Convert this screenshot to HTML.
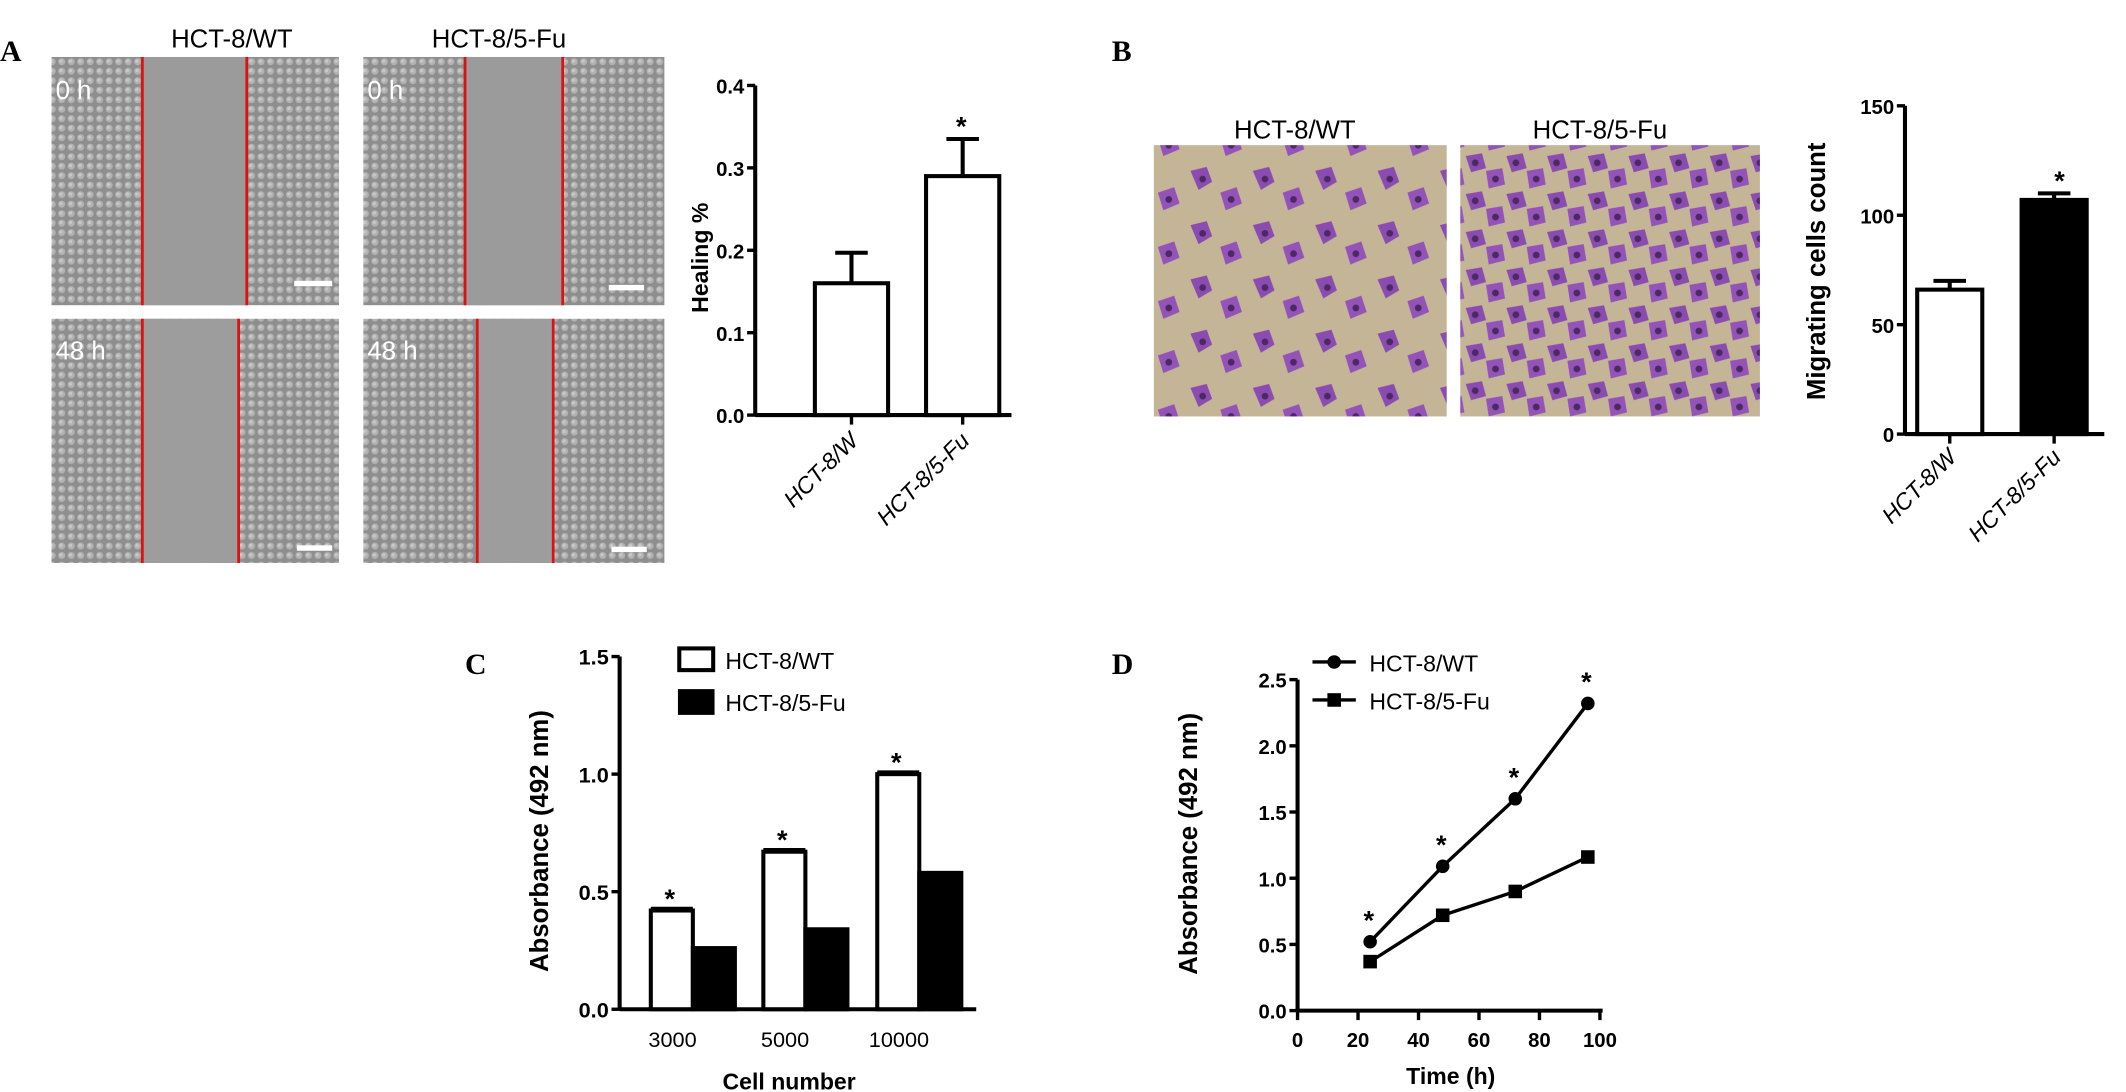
<!DOCTYPE html>
<html><head><meta charset="utf-8"><style>
html,body{margin:0;padding:0;background:#fff;}
svg{display:block;font-family:"Liberation Sans",sans-serif;}
</style></head><body>
<svg id="fig" width="2126" height="1092" viewBox="0 0 1568 805" preserveAspectRatio="none" xmlns="http://www.w3.org/2000/svg">
<defs>
<pattern id="cells" width="7" height="7" patternUnits="userSpaceOnUse">
<rect width="7" height="7" fill="#8e8e8e"/>
<circle cx="3.5" cy="3.5" r="2.6" fill="#b2b2b2"/>
<circle cx="3" cy="3" r="1.2" fill="#c8c8c8"/>
</pattern>
<pattern id="purple" width="46" height="40" patternUnits="userSpaceOnUse">
<rect width="46" height="40" fill="#c4b596"/>
<path d="M4 6 L16 3 L20 14 L10 20 Z" fill="#8a4cb0"/>
<path d="M26 22 L38 18 L42 30 L30 35 Z" fill="#9353b8"/>
<circle cx="13" cy="12" r="2.5" fill="#4a2a60"/>
<circle cx="34" cy="27" r="2.5" fill="#4a2a60"/>
</pattern>
<pattern id="purpleDense" width="30" height="28" patternUnits="userSpaceOnUse">
<rect width="30" height="28" fill="#c4b596"/>
<path d="M1 3 L13 1 L16 12 L5 15 Z" fill="#8a4cb0"/>
<path d="M16 14 L28 12 L30 24 L18 27 Z" fill="#9353b8"/>
<circle cx="8" cy="8" r="2.5" fill="#4a2a60"/>
<circle cx="23" cy="20" r="2.5" fill="#4a2a60"/>
</pattern>
</defs>

<!-- Panel A photos -->
<g>
<text x="0" y="45" style="font-family:'Liberation Serif',serif" font-weight="bold" font-size="22">A</text>
<text x="171" y="35" text-anchor="middle" font-size="19">HCT-8/WT</text>
<text x="368" y="35" text-anchor="middle" font-size="19">HCT-8/5-Fu</text>
<rect x="38" y="42" width="212" height="183" fill="url(#cells)"/>
<rect x="105" y="42" width="77" height="183" fill="#9b9b9b"/>
<line x1="105" y1="42" x2="105" y2="225" stroke="#e01010" stroke-width="2"/>
<line x1="182" y1="42" x2="182" y2="225" stroke="#e01010" stroke-width="2"/>
<rect x="268" y="42" width="222" height="183" fill="url(#cells)"/>
<rect x="343" y="42" width="72" height="183" fill="#9b9b9b"/>
<line x1="343" y1="42" x2="343" y2="225" stroke="#e01010" stroke-width="2"/>
<line x1="415" y1="42" x2="415" y2="225" stroke="#e01010" stroke-width="2"/>
<rect x="38" y="235" width="212" height="180" fill="url(#cells)"/>
<rect x="105" y="235" width="71" height="180" fill="#9d9d9d"/>
<line x1="105" y1="235" x2="105" y2="415" stroke="#e01010" stroke-width="2"/>
<line x1="176" y1="235" x2="176" y2="415" stroke="#e01010" stroke-width="2"/>
<rect x="268" y="235" width="222" height="180" fill="url(#cells)"/>
<rect x="352" y="235" width="56" height="180" fill="#9d9d9d"/>
<line x1="352" y1="235" x2="352" y2="415" stroke="#e01010" stroke-width="2"/>
<line x1="408" y1="235" x2="408" y2="415" stroke="#e01010" stroke-width="2"/>
<g fill="#fff" font-size="19">
<text x="41" y="73">0 h</text><text x="271" y="73">0 h</text>
<text x="41" y="265">48 h</text><text x="271" y="265">48 h</text>
</g>
<g fill="#fff">
<rect x="217" y="207" width="28" height="4"/><rect x="449" y="210" width="26" height="4"/>
<rect x="219" y="402" width="26" height="4"/><rect x="451" y="403" width="26" height="4"/>
</g>
</g>

<!-- Panel B photos -->
<g>
<text x="820" y="45" style="font-family:'Liberation Serif',serif" font-weight="bold" font-size="22">B</text>
<text x="955" y="102" text-anchor="middle" font-size="19">HCT-8/WT</text>
<text x="1180" y="102" text-anchor="middle" font-size="19">HCT-8/5-Fu</text>
<rect x="851" y="107" width="216" height="200" fill="url(#purple)"/>
<rect x="1077" y="107" width="221" height="200" fill="url(#purpleDense)"/>
</g>

<g id="chartA"></g>
<g id="chartB"></g>
<g id="chartC"></g>
<g id="chartD"></g>
<text x="343" y="497" style="font-family:'Liberation Serif',serif" font-weight="bold" font-size="22">C</text>
<text x="820" y="497" style="font-family:'Liberation Serif',serif" font-weight="bold" font-size="22">D</text>
</svg>
<script>
// Panel A data
const aCategories = ["HCT-8/W", "HCT-8/5-Fu"];
const aValues = [0.16, 0.29];
const aErrors = [0.037, 0.045];
const aTicks = ["0.0", "0.1", "0.2", "0.3", "0.4"];
// Panel B data
const bCategories = ["HCT-8/W", "HCT-8/5-Fu"];
const bValues = [66, 107];
const bErrors = [4, 3];
const bTicks = ["0", "50", "100", "150"];
// Panel C data
const cCategories = ["3000", "5000", "10000"];
const cWT = [0.42, 0.67, 1.00];
const cFU = [0.26, 0.34, 0.58];
const cTicks = ["0.0", "0.5", "1.0", "1.5"];
// Panel D data
const dTimes = [24, 48, 72, 96];
const dWT = [0.52, 1.09, 1.60, 2.32];
const dFU = [0.37, 0.72, 0.90, 1.16];
const dYTicks = ["0.0", "0.5", "1.0", "1.5", "2.0", "2.5"];
const dXTicks = ["0", "20", "40", "60", "80", "100"];

const NS = "http://www.w3.org/2000/svg";
function mk(parent, tag, attrs, txt) {
  const e = document.createElementNS(NS, tag);
  for (const k in attrs) e.setAttribute(k, attrs[k]);
  if (txt !== undefined) e.textContent = txt;
  parent.appendChild(e);
  return e;
}
function yAxis(g, x, y0, y1, ticks, max, fs) {
  const sc = v => y0 - (v / max) * (y0 - y1);
  const ax = mk(g, "line", {x1: x, y1: y0 + 1, x2: x, y2: y1, stroke: "#000", "stroke-width": 3});
  
  
  ticks.forEach(t => {
    const y = sc(parseFloat(t));
    mk(g, "line", {x1: x - 6, y1: y, x2: x, y2: y, stroke: "#000", "stroke-width": 2.5});
    const tl = mk(g, "text", {x: x - 8, y: y + 6, "text-anchor": "end", "font-size": fs, "font-weight": "bold"}, t);
    
    
  });
  return sc;
}
function ytitle(g, x, y, s, fs) {
  const t = mk(g, "text", {x: x, y: y, "text-anchor": "middle", "font-size": fs, "font-weight": "bold", transform: `rotate(-90 ${x} ${y})`}, s);
  
  
}
function bar(g, x, w, sc, v, fill, name) {
  const r = mk(g, "rect", {x: x, y: sc(v), width: w, height: sc(0) - sc(v), fill: fill, stroke: "#000", "stroke-width": 3});
  
  
}
function err(g, cx, sc, v, e, hw) {
  mk(g, "line", {x1: cx, y1: sc(v), x2: cx, y2: sc(v + e), stroke: "#000", "stroke-width": 3});
  mk(g, "line", {x1: cx - hw, y1: sc(v + e), x2: cx + hw, y2: sc(v + e), stroke: "#000", "stroke-width": 3});
}
function star(g, x, y) {
  const s = mk(g, "text", {x: x, y: y, "text-anchor": "middle", "font-size": 20, "font-weight": "bold"}, "*");
  
  
}
function rotLabel(g, x, y, s, fs) {
  const t = mk(g, "text", {x: x, y: y, "text-anchor": "end", "font-size": fs, "font-style": "italic", transform: `rotate(-45 ${x} ${y})`}, s);
  
  
}

// Chart A
(function () {
  const g = document.getElementById("chartA");
  const sc = yAxis(g, 557, 306, 63, aTicks, 0.4, 15);
  mk(g, "line", {x1: 557, y1: 306, x2: 746, y2: 306, stroke: "#000", "stroke-width": 3});
  const xs = [628, 710];
  aValues.forEach((v, i) => {
    err(g, xs[i], sc, v, aErrors[i], 12);
    bar(g, xs[i] - 27, 54, sc, v, "#fff", "bar-" + aCategories[i].toLowerCase().replace(/[^a-z0-9]+/g, "-"));
    mk(g, "line", {x1: xs[i], y1: 306, x2: xs[i], y2: 313, stroke: "#000", "stroke-width": 2.5});
    rotLabel(g, xs[i] + 6, 326, aCategories[i], 17);
  });
  star(g, 709, 100);
  ytitle(g, 522, 190, "Healing %", 17);
})();

// Chart B
(function () {
  const g = document.getElementById("chartB");
  const sc = yAxis(g, 1405, 320, 78, bTicks, 150, 15);
  mk(g, "line", {x1: 1405, y1: 320, x2: 1552, y2: 320, stroke: "#000", "stroke-width": 3});
  const xs = [1438, 1515];
  const fills = ["#fff", "#000"];
  bValues.forEach((v, i) => {
    err(g, xs[i], sc, v, bErrors[i], 12);
    bar(g, xs[i] - 24, 48, sc, v, fills[i], "bar-b-" + i);
    mk(g, "line", {x1: xs[i], y1: 320, x2: xs[i], y2: 327, stroke: "#000", "stroke-width": 2.5});
    rotLabel(g, xs[i] + 6, 338, bCategories[i], 17);
  });
  star(g, 1519, 140);
  ytitle(g, 1346, 200, "Migrating cells count", 19);
})();

// Chart C
(function () {
  const g = document.getElementById("chartC");
  const sc = yAxis(g, 457, 744, 484, cTicks, 1.5, 16);
  mk(g, "line", {x1: 457, y1: 744, x2: 720, y2: 744, stroke: "#000", "stroke-width": 3});
  const xs = [511, 594, 678];
  cCategories.forEach((c, i) => {
    bar(g, xs[i] - 31, 31, sc, cWT[i], "#fff", "bar-wt-" + c);
    bar(g, xs[i], 31, sc, cFU[i], "#000", "bar-5fu-" + c);
    mk(g, "line", {x1: xs[i] - 31, y1: sc(cWT[i] + 0.01), x2: xs[i], y2: sc(cWT[i] + 0.01), stroke: "#000", "stroke-width": 2});
    star(g, xs[i] - 17, sc(cWT[i]) - 2);
    const t = mk(g, "text", {x: xs[i] - 15, y: 772, "text-anchor": "middle", "font-size": 16}, c);
    
    
  });
  const xl = mk(g, "text", {x: 582, y: 803, "text-anchor": "middle", "font-size": 17, "font-weight": "bold"}, "Cell number");
  
  
  ytitle(g, 404, 620, "Absorbance (492 nm)", 19);
  const l1 = mk(g, "rect", {x: 501, y: 478, width: 25, height: 16, fill: "#fff", stroke: "#000", "stroke-width": 3});
  
  
  mk(g, "text", {x: 535, y: 493, "font-size": 17}, "HCT-8/WT");
  const l2 = mk(g, "rect", {x: 500, y: 508, width: 27, height: 19, fill: "#000"});
  
  
  mk(g, "text", {x: 535, y: 524, "font-size": 17}, "HCT-8/5-Fu");
})();

// Chart D
(function () {
  const g = document.getElementById("chartD");
  const sc = yAxis(g, 957, 745, 501, dYTicks, 2.5, 15);
  const xs = v => 957 + v / 100 * (1180 - 957);
  mk(g, "line", {x1: 957, y1: 745, x2: 1182, y2: 745, stroke: "#000", "stroke-width": 3});
  dXTicks.forEach(t => {
    const x = xs(parseFloat(t));
    mk(g, "line", {x1: x, y1: 745, x2: x, y2: 752, stroke: "#000", "stroke-width": 2.5});
    const tl = mk(g, "text", {x: x, y: 772, "text-anchor": "middle", "font-size": 15, "font-weight": "bold"}, t);
    
    
  });
  const ptsW = dTimes.map((t, i) => xs(t) + "," + sc(dWT[i])).join(" ");
  const ptsF = dTimes.map((t, i) => xs(t) + "," + sc(dFU[i])).join(" ");
  const lw = mk(g, "polyline", {points: ptsW, fill: "none", stroke: "#000", "stroke-width": 2.5});
  
  
  const lf = mk(g, "polyline", {points: ptsF, fill: "none", stroke: "#000", "stroke-width": 2.5});
  
  
  dTimes.forEach((t, i) => {
    const c = mk(g, "circle", {cx: xs(t), cy: sc(dWT[i]), r: 5, fill: "#000"});
    
    
    const s = mk(g, "rect", {x: xs(t) - 5, y: sc(dFU[i]) - 5, width: 10, height: 10, fill: "#000"});
    
    
    star(g, xs(t) - 1, sc(dWT[i]) - 9);
  });
  const xl = mk(g, "text", {x: 1070, y: 799, "text-anchor": "middle", "font-size": 17, "font-weight": "bold"}, "Time (h)");
  
  
  ytitle(g, 883, 622, "Absorbance (492 nm)", 19);
  mk(g, "line", {x1: 968, y1: 488, x2: 1000, y2: 488, stroke: "#000", "stroke-width": 2.5});
  const lc = mk(g, "circle", {cx: 984, cy: 488, r: 5, fill: "#000"});
  
  
  mk(g, "text", {x: 1010, y: 495, "font-size": 17}, "HCT-8/WT");
  mk(g, "line", {x1: 968, y1: 516, x2: 1000, y2: 516, stroke: "#000", "stroke-width": 2.5});
  const ls = mk(g, "rect", {x: 979, y: 511, width: 10, height: 10, fill: "#000"});
  
  
  mk(g, "text", {x: 1010, y: 523, "font-size": 17}, "HCT-8/5-Fu");
})();
</script>
</body></html>
